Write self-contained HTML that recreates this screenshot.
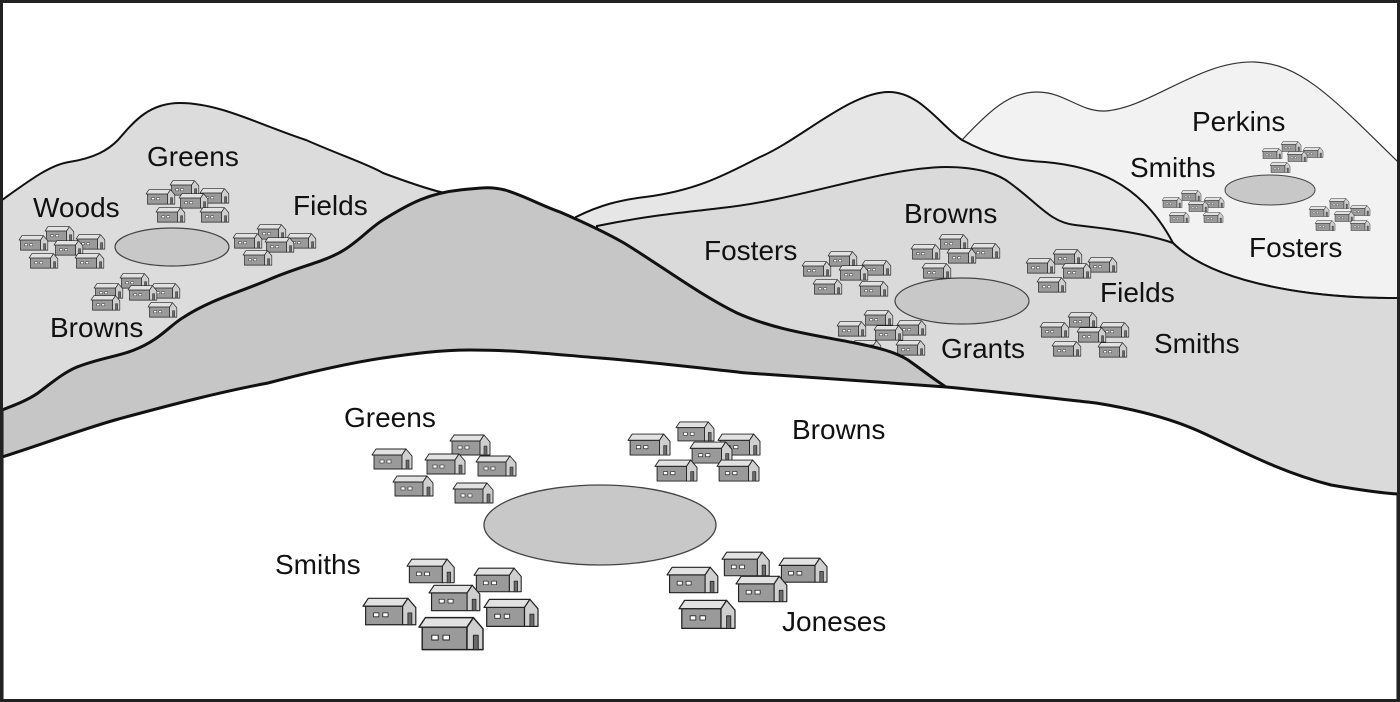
<!DOCTYPE html>
<html><head><meta charset="utf-8"><style>
html,body{margin:0;padding:0;background:#fff}
svg{display:block}
text{font-family:"Liberation Sans",Arial,sans-serif;font-size:28px;fill:#111}
</style></head><body>
<svg width="1400" height="702" viewBox="0 0 1400 702" xmlns="http://www.w3.org/2000/svg">
<defs>
<g id="h" stroke="#222" stroke-width="0.9" stroke-linejoin="round">
<polygon points="4,1 34,1 30,7 0,7" fill="#e2e2e2"/>
<rect x="2" y="7" width="28" height="14" fill="#9a9a9a"/>
<polygon points="30,7 34,1 40,8 40,21 30,21" fill="#cfcfcf"/>
<rect x="34" y="12" width="3" height="9" fill="#6a6a6a" stroke-width="0.6"/>
<rect x="8" y="12" width="4" height="3" fill="#fff" stroke-width="0.6"/>
<rect x="15" y="12" width="4" height="3" fill="#fff" stroke-width="0.6"/>
</g>
</defs>
<rect width="1400" height="702" fill="#fff"/>

<path d="M962,140 C990,110 1010,92 1037,92 C1065,92 1080,112 1105,111 C1150,108 1200,60 1255,62 C1300,64 1330,95 1398,162 L1398,500 L962,500 Z" fill="#f2f2f2" stroke="#333" stroke-width="1.2"/>
<path d="M576,217 C600,205 620,200 645,197 C700,190 730,172 760,157 C800,140 850,92 889,92 C920,92 940,125 962,140 C990,155 1010,160 1045,162 C1090,166 1140,180 1173,243 C1200,270 1250,285 1310,293 C1350,298 1380,298 1398,298 L1398,500 L576,500 Z" fill="#e6e6e6" stroke="#111" stroke-width="2"/>
<path d="M597,226 C650,215 690,212 721,208 C800,200 880,168 946,167 C980,167 1000,175 1010,183 C1040,205 1050,222 1075,225 C1120,230 1150,235 1173,243 C1200,270 1250,285 1310,293 C1350,298 1380,298 1398,298 L1398,500 L597,500 Z" fill="#dadada" stroke="#111" stroke-width="2"/>

<path d="M2,200 C30,180 50,165 69,162 C95,158 108,150 118,140 C135,120 150,103 180,103 C220,103 260,125 306,140 C340,155 370,165 383,173 C410,183 430,190 445,193 L600,230 L600,460 L2,460 Z" fill="#dcdcdc" stroke="#111" stroke-width="2"/>

<ellipse cx="962" cy="301" rx="67" ry="23" fill="#c8c8c8" stroke="#444" stroke-width="1.2"/>
<g transform="translate(828,251) scale(0.72)"><use href="#h"/></g>
<g transform="translate(802,261) scale(0.72)"><use href="#h"/></g>
<g transform="translate(862,260) scale(0.72)"><use href="#h"/></g>
<g transform="translate(839,265) scale(0.72)"><use href="#h"/></g>
<g transform="translate(813,279) scale(0.72)"><use href="#h"/></g>
<g transform="translate(859,281) scale(0.72)"><use href="#h"/></g>

<g transform="translate(939,234) scale(0.72)"><use href="#h"/></g>
<g transform="translate(911,244) scale(0.72)"><use href="#h"/></g>
<g transform="translate(971,243) scale(0.72)"><use href="#h"/></g>
<g transform="translate(947,248) scale(0.72)"><use href="#h"/></g>
<g transform="translate(922,263) scale(0.72)"><use href="#h"/></g>

<g transform="translate(1053,249) scale(0.72)"><use href="#h"/></g>
<g transform="translate(1026,258) scale(0.72)"><use href="#h"/></g>
<g transform="translate(1088,257) scale(0.72)"><use href="#h"/></g>
<g transform="translate(1062,263) scale(0.72)"><use href="#h"/></g>
<g transform="translate(1037,277) scale(0.72)"><use href="#h"/></g>

<g transform="translate(864,310) scale(0.72)"><use href="#h"/></g>
<g transform="translate(837,321) scale(0.72)"><use href="#h"/></g>
<g transform="translate(897,320) scale(0.72)"><use href="#h"/></g>
<g transform="translate(874,325) scale(0.72)"><use href="#h"/></g>
<g transform="translate(852,340) scale(0.72)"><use href="#h"/></g>
<g transform="translate(896,340) scale(0.72)"><use href="#h"/></g>

<g transform="translate(1068,312) scale(0.72)"><use href="#h"/></g>
<g transform="translate(1040,322) scale(0.72)"><use href="#h"/></g>
<g transform="translate(1100,322) scale(0.72)"><use href="#h"/></g>
<g transform="translate(1077,327) scale(0.72)"><use href="#h"/></g>
<g transform="translate(1052,341) scale(0.72)"><use href="#h"/></g>
<g transform="translate(1098,342) scale(0.72)"><use href="#h"/></g>

<ellipse cx="1270" cy="190" rx="45" ry="15" fill="#c8c8c8" stroke="#444" stroke-width="1"/>
<g transform="translate(1281,141) scale(0.5)"><use href="#h"/></g>
<g transform="translate(1262,148) scale(0.5)"><use href="#h"/></g>
<g transform="translate(1303,147) scale(0.5)"><use href="#h"/></g>
<g transform="translate(1287,151) scale(0.5)"><use href="#h"/></g>
<g transform="translate(1270,162) scale(0.5)"><use href="#h"/></g>

<g transform="translate(1181,190) scale(0.5)"><use href="#h"/></g>
<g transform="translate(1162,197) scale(0.5)"><use href="#h"/></g>
<g transform="translate(1204,197) scale(0.5)"><use href="#h"/></g>
<g transform="translate(1188,201) scale(0.5)"><use href="#h"/></g>
<g transform="translate(1169,212) scale(0.5)"><use href="#h"/></g>
<g transform="translate(1203,212) scale(0.5)"><use href="#h"/></g>

<g transform="translate(1329,198) scale(0.5)"><use href="#h"/></g>
<g transform="translate(1309,206) scale(0.5)"><use href="#h"/></g>
<g transform="translate(1350,205) scale(0.5)"><use href="#h"/></g>
<g transform="translate(1334,211) scale(0.5)"><use href="#h"/></g>
<g transform="translate(1315,220) scale(0.5)"><use href="#h"/></g>
<g transform="translate(1350,220) scale(0.5)"><use href="#h"/></g>

<ellipse cx="172" cy="247" rx="57" ry="19" fill="#c8c8c8" stroke="#444" stroke-width="1.2"/>
<g transform="translate(45,226) scale(0.72)"><use href="#h"/></g>
<g transform="translate(19,235) scale(0.72)"><use href="#h"/></g>
<g transform="translate(76,234) scale(0.72)"><use href="#h"/></g>
<g transform="translate(54,240) scale(0.72)"><use href="#h"/></g>
<g transform="translate(29,253) scale(0.72)"><use href="#h"/></g>
<g transform="translate(75,253) scale(0.72)"><use href="#h"/></g>

<g transform="translate(170,180) scale(0.72)"><use href="#h"/></g>
<g transform="translate(146,189) scale(0.72)"><use href="#h"/></g>
<g transform="translate(200,188) scale(0.72)"><use href="#h"/></g>
<g transform="translate(179,193) scale(0.72)"><use href="#h"/></g>
<g transform="translate(156,207) scale(0.72)"><use href="#h"/></g>
<g transform="translate(200,207) scale(0.72)"><use href="#h"/></g>

<g transform="translate(257,224) scale(0.72)"><use href="#h"/></g>
<g transform="translate(233,233) scale(0.72)"><use href="#h"/></g>
<g transform="translate(287,233) scale(0.72)"><use href="#h"/></g>
<g transform="translate(265,237) scale(0.72)"><use href="#h"/></g>
<g transform="translate(243,250) scale(0.72)"><use href="#h"/></g>

<g transform="translate(120,273) scale(0.72)"><use href="#h"/></g>
<g transform="translate(94,283) scale(0.72)"><use href="#h"/></g>
<g transform="translate(151,283) scale(0.72)"><use href="#h"/></g>
<g transform="translate(128,285) scale(0.72)"><use href="#h"/></g>
<g transform="translate(91,295) scale(0.72)"><use href="#h"/></g>
<g transform="translate(148,302) scale(0.72)"><use href="#h"/></g>

<path d="M2,410 C15,405 28,400 38,393 C55,380 65,372 77,367 C100,358 120,356 134,350 C160,340 170,325 184,317 C210,300 240,292 268,280 C300,266 325,262 344,250 C360,240 370,228 383,220 C410,203 430,193 460,190 C480,188 490,186 505,190 C525,196 540,205 560,212 C590,225 610,235 624,243 C660,265 700,295 737,313 C775,330 815,335 855,343 C880,348 895,352 908,360 C925,372 935,380 946,387 L946,400 L2,460 Z" fill="#c6c6c6" stroke="#111" stroke-width="3" stroke-linejoin="round"/>

<path d="M2,457 C40,445 80,430 115,420 C170,405 220,392 268,383 C310,372 350,363 383,358 C410,354 440,350 470,350 C520,350 560,355 600,358 C650,362 700,368 747,373 C820,378 880,382 946,387 C1000,392 1050,398 1096,403 C1140,410 1175,420 1203,433 C1240,450 1280,472 1331,485 C1360,490 1380,493 1398,494 L1398,702 L2,702 Z" fill="#fff" stroke="#111" stroke-width="3" stroke-linejoin="round"/>

<ellipse cx="600" cy="525" rx="116" ry="40" fill="#c8c8c8" stroke="#444" stroke-width="1.3"/>
<g transform="translate(372,448) scale(1)"><use href="#h"/></g>
<g transform="translate(450,434) scale(1)"><use href="#h"/></g>
<g transform="translate(425,453) scale(1)"><use href="#h"/></g>
<g transform="translate(476,455) scale(1)"><use href="#h"/></g>
<g transform="translate(393,475) scale(1)"><use href="#h"/></g>
<g transform="translate(453,482) scale(1)"><use href="#h"/></g>

<g transform="translate(628,433) scale(1.05)"><use href="#h"/></g>
<g transform="translate(676,421) scale(0.95)"><use href="#h"/></g>
<g transform="translate(718,433) scale(1.05)"><use href="#h"/></g>
<g transform="translate(690,441) scale(1.05)"><use href="#h"/></g>
<g transform="translate(655,459) scale(1.05)"><use href="#h"/></g>
<g transform="translate(717,459) scale(1.05)"><use href="#h"/></g>

<g transform="translate(407,558) scale(1.18)"><use href="#h"/></g>
<g transform="translate(474,567) scale(1.18)"><use href="#h"/></g>
<g transform="translate(429,584) scale(1.27)"><use href="#h"/></g>
<g transform="translate(363,597) scale(1.32)"><use href="#h"/></g>
<g transform="translate(484,598) scale(1.35)"><use href="#h"/></g>
<g transform="translate(419,616) scale(1.6)"><use href="#h"/></g>

<g transform="translate(722,551) scale(1.18)"><use href="#h"/></g>
<g transform="translate(779,557) scale(1.2)"><use href="#h"/></g>
<g transform="translate(667,566) scale(1.27)"><use href="#h"/></g>
<g transform="translate(736,575) scale(1.27)"><use href="#h"/></g>
<g transform="translate(679,599) scale(1.4)"><use href="#h"/></g>

<text x="147" y="166">Greens</text>
<text x="33" y="217">Woods</text>
<text x="293" y="215">Fields</text>
<text x="50" y="337">Browns</text>
<text x="904" y="223">Browns</text>
<text x="704" y="260">Fosters</text>
<text x="1100" y="302">Fields</text>
<text x="1154" y="353">Smiths</text>
<text x="941" y="358">Grants</text>
<text x="1192" y="131">Perkins</text>
<text x="1130" y="177">Smiths</text>
<text x="1249" y="257">Fosters</text>
<text x="344" y="427">Greens</text>
<text x="792" y="439">Browns</text>
<text x="275" y="574">Smiths</text>
<text x="782" y="631">Joneses</text>

<rect x="1.5" y="1.5" width="1397" height="699" fill="none" stroke="#222" stroke-width="3"/>
</svg>
</body></html>
